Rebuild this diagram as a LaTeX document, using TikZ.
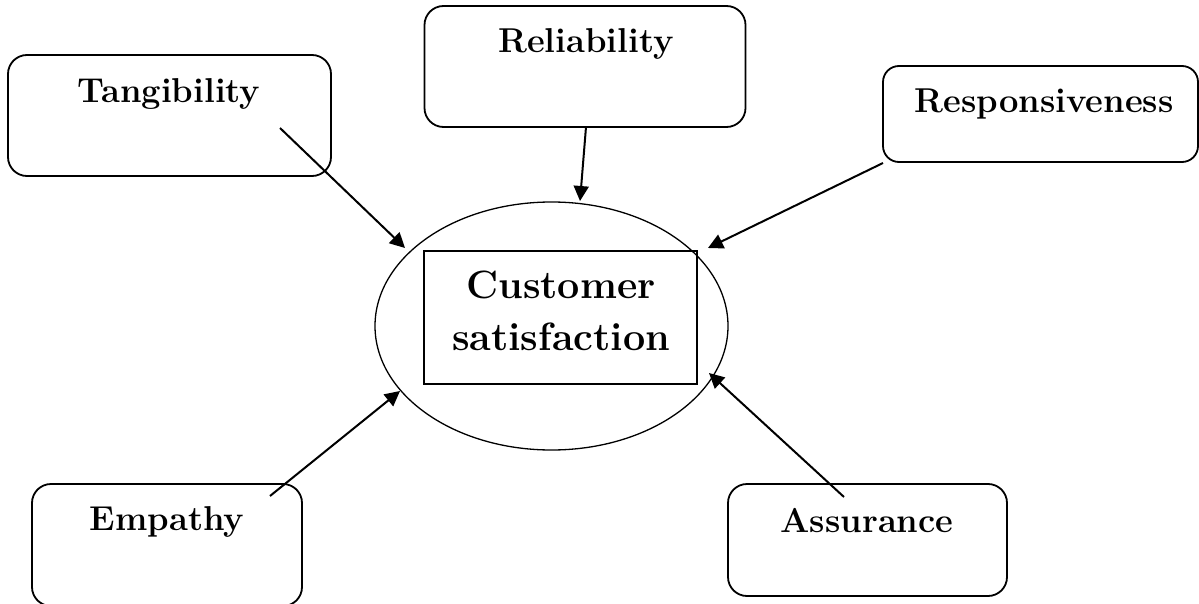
\documentclass[tikz,border=0pt]{standalone}
\usepackage{fontspec}
\usetikzlibrary{arrows.meta,shapes.geometric}
\tikzset{
  factorbox/.style={draw, line width=1.8pt, rounded corners=19pt, inner sep=0pt},
  factortext/.style={anchor=base, inner sep=0pt, font=\fontsize{34.5}{40}\selectfont\bfseries},
  coretext/.style={anchor=base, inner sep=0pt, align=center, font=\fontsize{39.5}{52}\selectfont\bfseries},
  link/.style={line width=2pt, -{Triangle[length=15pt,width=15pt]}},
}
\begin{document}
\begin{tikzpicture}[x=1pt,y=-1pt]
\useasboundingbox (0,0) rectangle (1199,604);

% outer ellipse and inner frame
\node[draw, line width=1.3pt, ellipse, minimum width=353pt, minimum height=248pt, inner sep=0pt] (sat) at (551.5,326) {};
\node[draw, line width=1.8pt, minimum width=273pt, minimum height=133pt, inner sep=0pt] (frame) at (560.5,317.5) {};
% base anchor sits on the last line
\node[coretext] (sattext) at (561,350) {Customer\\satisfaction};

% factor boxes
\node[factorbox, minimum width=323pt, minimum height=121pt] (tang) at (169.5,115.5) {};
\node[factortext] (tangtext) at (169,103) {Tangibility};

\node[factorbox, minimum width=321pt, minimum height=121pt] (reli) at (585,66.5) {};
\node[factortext] (relitext) at (586,53) {Reliability};

\node[factorbox, minimum width=315pt, minimum height=96pt, rounded corners=16pt] (resp) at (1040.5,114) {};
\node[factortext] (resptext) at (1044,113) {Responsiveness};

\node[factorbox, minimum width=270pt, minimum height=122pt] (emp) at (167,545) {};
\node[factortext] (emptext) at (167,530) {Empathy};

\node[factorbox, minimum width=279pt, minimum height=112pt] (assu) at (867.5,540) {};
\node[factortext] (assutext) at (867,532) {Assurance};

% arrow ends
\coordinate (tangout) at (280,128);
\coordinate (tangin) at (405,248);
\coordinate (reliout) at (586,127);
\coordinate (reliin) at (580,201);
\coordinate (respout) at (883,163);
\coordinate (respin) at (708,248);
\coordinate (empout) at (270,496);
\coordinate (empin) at (400,391);
\coordinate (assuout) at (844,497);
\coordinate (assuin) at (709,373);

\draw[link] (tangout) -- (tangin);
\draw[link] (reliout) -- (reliin);
\draw[link] (respout) -- (respin);
\draw[link] (empout) -- (empin);
\draw[link] (assuout) -- (assuin);
\end{tikzpicture}
\end{document}
